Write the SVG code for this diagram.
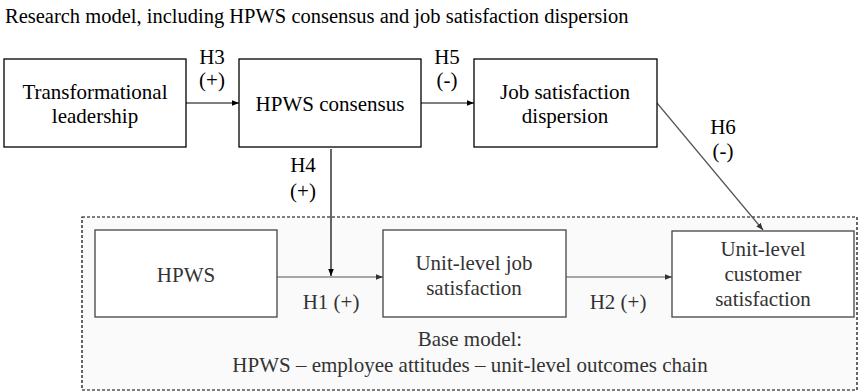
<svg xmlns="http://www.w3.org/2000/svg" width="860" height="392" viewBox="0 0 860 392" font-family="'Liberation Serif','Times New Roman',serif">
<defs>
<style>
text{font-family:"Liberation Serif","Times New Roman",serif;fill:#000}
.t{font-size:20.5px}
.n{font-size:21px;text-anchor:middle}
.l{font-size:21px;text-anchor:middle}
.g{fill:#333}
.box{fill:#fff;stroke:#000;stroke-width:1.3}
.gbox{fill:#fff;stroke:#444;stroke-width:1.3}
.c{stroke:#000;stroke-width:1.2;fill:none}
.cg{stroke:#555;stroke-width:1.2;fill:none}
</style>
<marker id="a" viewBox="0 0 10 10" refX="10" refY="5" markerWidth="7" markerHeight="7" orient="auto" markerUnits="userSpaceOnUse"><path d="M0,1 L10,5 L0,9 z" fill="#000"/></marker>
<marker id="ag" viewBox="0 0 10 10" refX="10" refY="5" markerWidth="7" markerHeight="7" orient="auto" markerUnits="userSpaceOnUse"><path d="M0,1 L10,5 L0,9 z" fill="#333"/></marker>
</defs>
<rect width="860" height="392" fill="#fff"/>
<text class="t" x="5" y="23">Research model, including HPWS consensus and job satisfaction dispersion</text>
<g id="base">
<rect x="82" y="217" width="775" height="173" fill="#fafafa" stroke="#000" stroke-width="1.2" stroke-dasharray="3,2"/>
<text class="n g" x="470" y="346">Base model:</text>
<text class="n g" x="470" y="372">HPWS – employee attitudes – unit-level outcomes chain</text>
</g>
<g id="connectors">
<line class="c" x1="186" y1="103" x2="239" y2="103" marker-end="url(#a)"/>
<line class="c" x1="421" y1="103" x2="474" y2="103" marker-end="url(#a)"/>
<line class="c" x1="331" y1="149" x2="331" y2="276" marker-end="url(#a)"/>
<line class="cg" x1="657" y1="103" x2="763" y2="230" marker-end="url(#ag)"/>
<line class="cg" x1="277" y1="277" x2="383" y2="277" marker-end="url(#ag)"/>
<line class="cg" x1="566" y1="277" x2="672" y2="277" marker-end="url(#ag)"/>
<text class="l" x="212" y="64">H3</text>
<text class="l" x="212" y="87">(+)</text>
<text class="l" x="447" y="64">H5</text>
<text class="l" x="447" y="87">(-)</text>
<text class="l" x="303" y="172">H4</text>
<text class="l" x="303" y="198">(+)</text>
<text class="l" x="723" y="134">H6</text>
<text class="l" x="723" y="158">(-)</text>
<text class="l g" x="331" y="309">H1 (+)</text>
<text class="l g" x="618" y="309">H2 (+)</text>
</g>
<g id="transformational">
<rect class="box" x="4" y="59" width="182" height="88"/>
<text class="n" x="95" y="99">Transformational</text>
<text class="n" x="95" y="123">leadership</text>
</g>
<g id="hpws-consensus">
<rect class="box" x="239" y="59" width="182" height="88"/>
<text class="n" x="330" y="111">HPWS consensus</text>
</g>
<g id="job-dispersion">
<rect class="box" x="474" y="59" width="183" height="88"/>
<text class="n" x="565" y="99">Job satisfaction</text>
<text class="n" x="565" y="123">dispersion</text>
</g>
<g id="hpws">
<rect class="gbox" x="95" y="230" width="182" height="87"/>
<text class="n g" x="186" y="282">HPWS</text>
</g>
<g id="job-satisfaction">
<rect class="gbox" x="383" y="230" width="183" height="87"/>
<text class="n g" x="474" y="270">Unit-level job</text>
<text class="n g" x="474" y="295">satisfaction</text>
</g>
<g id="customer">
<rect class="gbox" x="672" y="231" width="182" height="86"/>
<text class="n g" x="763" y="256">Unit-level</text>
<text class="n g" x="763" y="281">customer</text>
<text class="n g" x="763" y="306">satisfaction</text>
</g>
</svg>
